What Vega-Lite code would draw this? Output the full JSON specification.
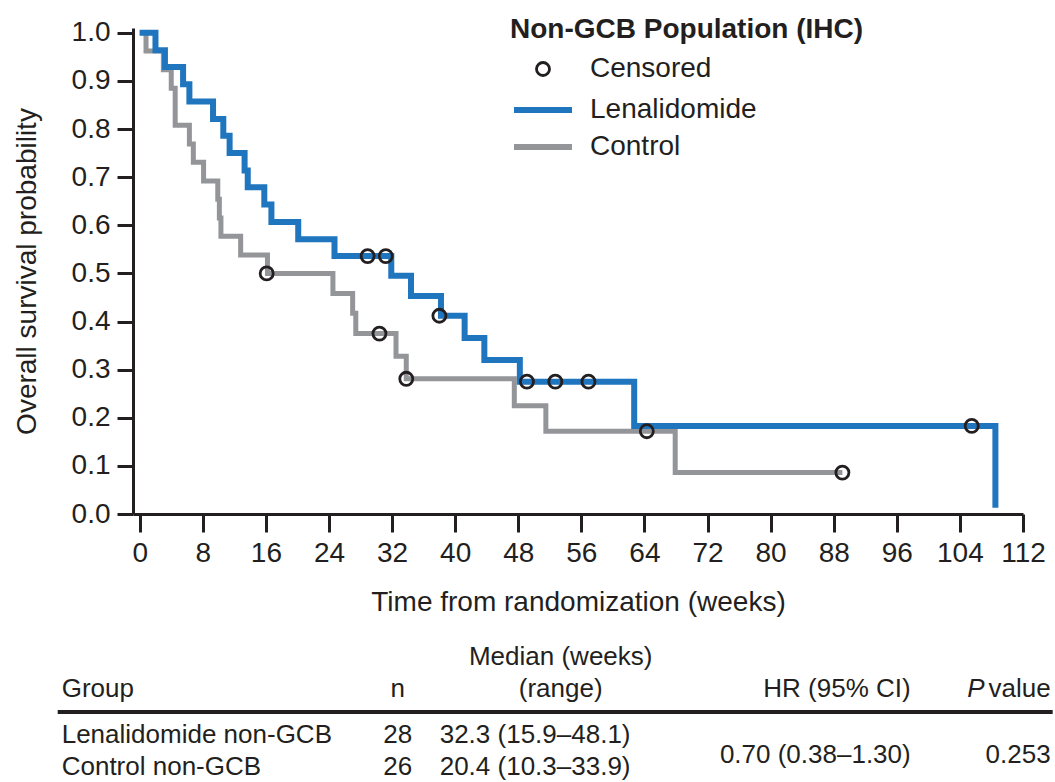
{
  "$schema": "https://vega.github.io/schema/vega-lite/v6.json",
  "padding": {"left": 13, "top": 16, "right": 0, "bottom": 0},
  "autosize": {"type": "pad"},
  "background": "white",
  "bounds": "flush",
  "spacing": 157,
  "datasets": {
    "km": [
      {"group": "Control", "t": 0, "s": 1.0},
      {"group": "Control", "t": 0.8, "s": 0.962},
      {"group": "Control", "t": 3.0, "s": 0.923},
      {"group": "Control", "t": 4.0, "s": 0.885},
      {"group": "Control", "t": 4.5, "s": 0.808},
      {"group": "Control", "t": 6.3, "s": 0.769},
      {"group": "Control", "t": 6.8, "s": 0.731},
      {"group": "Control", "t": 8.1, "s": 0.692},
      {"group": "Control", "t": 9.9, "s": 0.654},
      {"group": "Control", "t": 10.1, "s": 0.615},
      {"group": "Control", "t": 10.3, "s": 0.577},
      {"group": "Control", "t": 12.8, "s": 0.538},
      {"group": "Control", "t": 16.2, "s": 0.5},
      {"group": "Control", "t": 24.5, "s": 0.458},
      {"group": "Control", "t": 27.0, "s": 0.417},
      {"group": "Control", "t": 27.4, "s": 0.375},
      {"group": "Control", "t": 32.5, "s": 0.328},
      {"group": "Control", "t": 33.8, "s": 0.281},
      {"group": "Control", "t": 47.5, "s": 0.225},
      {"group": "Control", "t": 51.5, "s": 0.172},
      {"group": "Control", "t": 67.9, "s": 0.086},
      {"group": "Control", "t": 89.1, "s": 0.086},
      {"group": "Lenalidomide", "t": 0, "s": 1.0},
      {"group": "Lenalidomide", "t": 2.0, "s": 0.964},
      {"group": "Lenalidomide", "t": 3.2, "s": 0.929},
      {"group": "Lenalidomide", "t": 5.5, "s": 0.893},
      {"group": "Lenalidomide", "t": 6.3, "s": 0.857},
      {"group": "Lenalidomide", "t": 9.3, "s": 0.821},
      {"group": "Lenalidomide", "t": 10.6, "s": 0.786},
      {"group": "Lenalidomide", "t": 11.4, "s": 0.75},
      {"group": "Lenalidomide", "t": 13.3, "s": 0.714},
      {"group": "Lenalidomide", "t": 13.7, "s": 0.679},
      {"group": "Lenalidomide", "t": 15.8, "s": 0.643},
      {"group": "Lenalidomide", "t": 16.7, "s": 0.607},
      {"group": "Lenalidomide", "t": 20.1, "s": 0.571},
      {"group": "Lenalidomide", "t": 24.7, "s": 0.536},
      {"group": "Lenalidomide", "t": 31.9, "s": 0.495},
      {"group": "Lenalidomide", "t": 34.4, "s": 0.453},
      {"group": "Lenalidomide", "t": 38.2, "s": 0.412},
      {"group": "Lenalidomide", "t": 41.2, "s": 0.366},
      {"group": "Lenalidomide", "t": 43.7, "s": 0.32},
      {"group": "Lenalidomide", "t": 48.2, "s": 0.275},
      {"group": "Lenalidomide", "t": 62.7, "s": 0.183},
      {"group": "Lenalidomide", "t": 108.5, "s": 0.013}
    ],
    "cens": [
      {"group": "Lenalidomide", "kind": "Censored", "t": 28.9, "s": 0.536},
      {"group": "Lenalidomide", "kind": "Censored", "t": 31.2, "s": 0.536},
      {"group": "Lenalidomide", "kind": "Censored", "t": 38.0, "s": 0.412},
      {"group": "Lenalidomide", "kind": "Censored", "t": 49.1, "s": 0.275},
      {"group": "Lenalidomide", "kind": "Censored", "t": 52.7, "s": 0.275},
      {"group": "Lenalidomide", "kind": "Censored", "t": 56.9, "s": 0.275},
      {"group": "Lenalidomide", "kind": "Censored", "t": 105.5, "s": 0.183},
      {"group": "Control", "kind": "Censored", "t": 16.1, "s": 0.5},
      {"group": "Control", "kind": "Censored", "t": 30.4, "s": 0.375},
      {"group": "Control", "kind": "Censored", "t": 33.8, "s": 0.281},
      {"group": "Control", "kind": "Censored", "t": 64.3, "s": 0.172},
      {"group": "Control", "kind": "Censored", "t": 89.1, "s": 0.086}
    ],
    "table": [
      {"row": "title", "c": 3, "text": "Median (weeks)"},
      {"row": "header", "c": 1, "text": "Group"},
      {"row": "header", "c": 2, "text": "n"},
      {"row": "header", "c": 3, "text": "(range)"},
      {"row": "header", "c": 4, "text": "HR (95% CI)"},
      {"row": "header", "c": 5, "text": "value"},
      {"row": "header", "c": 5, "text": "P"},
      {"row": "r1", "c": 1, "text": "Lenalidomide non-GCB"},
      {"row": "r1", "c": 2, "text": "28"},
      {"row": "r1", "c": 3, "text": "32.3 (15.9–48.1)"},
      {"row": "r2", "c": 1, "text": "Control non-GCB"},
      {"row": "r2", "c": 2, "text": "26"},
      {"row": "r2", "c": 3, "text": "20.4 (10.3–33.9)"},
      {"row": "r1", "c": 4, "text": "0.70 (0.38–1.30)"},
      {"row": "r1", "c": 5, "text": "0.253"}
    ]
  },
  "vconcat": [
    {
      "width": 890,
      "height": 486,
      "encoding": {
        "x": {
          "field": "t", "type": "quantitative",
          "scale": {"domain": [-0.85, 112], "nice": false, "zero": false},
          "axis": {"values": [0, 8, 16, 24, 32, 40, 48, 56, 64, 72, 80, 88, 96, 104, 112], "title": "Time from randomization (weeks)", "labelOverlap": false, "labelFlush": false}
        },
        "y": {
          "field": "s", "type": "quantitative",
          "scale": {"domain": [0, 1.01], "nice": false, "zero": false},
          "axis": {"values": [0, 0.1, 0.2, 0.3, 0.4, 0.5, 0.6, 0.7, 0.8, 0.9, 1.0], "format": ".1f", "title": "Overall survival probability", "labelOverlap": false, "labelFlush": false}
        }
      },
      "layer": [
        {
          "data": {"name": "km"},
          "transform": [{"filter": "datum.group === 'Control'"}],
          "mark": {"type": "line", "interpolate": "step-after", "strokeWidth": 5},
          "encoding": {
            "color": {
              "field": "group", "type": "nominal",
              "scale": {"domain": ["Lenalidomide", "Control"], "range": ["#1f75be", "#939598"]},
              "legend": {
                "orient": "none", "legendX": 378, "legendY": 68, "title": null,
                "symbolType": "stroke", "symbolSize": 3364, "symbolStrokeWidth": 6,
                "clipHeight": 28, "rowPadding": 9, "labelOffset": 15, "padding": 0,
                "labelFontSize": 28, "labelColor": "#231f20", "labelFont": "Liberation Sans", "labelLimit": 1000
              }
            }
          }
        },
        {
          "data": {"name": "km"},
          "transform": [{"filter": "datum.group === 'Lenalidomide'"}],
          "mark": {"type": "line", "interpolate": "step-after", "strokeWidth": 6},
          "encoding": {
            "color": {"field": "group", "type": "nominal"}
          }
        },
        {
          "data": {"name": "cens"},
          "mark": {"type": "point", "shape": "circle", "filled": false, "size": 170, "strokeWidth": 2.8, "color": "#231f20", "opacity": 1},
          "encoding": {
            "shape": {
              "field": "kind", "type": "nominal",
              "scale": {"domain": ["Censored"], "range": ["circle"]},
              "legend": {
                "orient": "none", "legendX": 377, "legendY": -12,
                "title": "Non-GCB Population (IHC)", "titleFontSize": 28, "titleFontWeight": "bold",
                "titleColor": "#231f20", "titleFont": "Liberation Sans", "titlePadding": 11, "titleLimit": 1000,
                "symbolSize": 170, "symbolStrokeWidth": 2.8, "symbolStrokeColor": "#231f20",
                "symbolFillColor": "transparent", "symbolOffset": 19, "labelOffset": 33,
                "padding": 0, "labelFontSize": 28, "labelColor": "#231f20", "labelFont": "Liberation Sans", "labelLimit": 1000
              }
            }
          }
        }
      ]
    },
    {
      "width": 890,
      "height": 96,
      "data": {"name": "table"},
      "encoding": {
        "x": {
          "field": "c", "type": "quantitative",
          "scale": {"domain": [0, 1, 2, 3, 4, 5, 6], "range": [-75.3, -71.3, 264.7, 306.7, 777.7, 917.7, 919.7], "nice": false, "zero": false},
          "axis": null
        },
        "y": {
          "field": "row", "type": "nominal",
          "scale": {"type": "point", "domain": ["title", "header", "r1", "r2"], "padding": 0},
          "axis": null
        }
      },
      "layer": [
        {
          "data": {"values": [{"row": "header", "c": 0, "c2": 6}]},
          "mark": {"type": "rule", "yOffset": 9, "strokeWidth": 4, "color": "#231f20"},
          "encoding": {
            "x2": {"field": "c2"}
          }
        },
        {
          "transform": [{"filter": "datum.row === 'header' && datum.c === 1"}],
          "mark": {"type": "text", "align": "left", "baseline": "middle", "dy": -14},
          "encoding": {"text": {"field": "text"}}
        },
        {
          "transform": [{"filter": "datum.row === 'header' && datum.c === 2"}],
          "mark": {"type": "text", "align": "center", "baseline": "middle", "dy": -14},
          "encoding": {"text": {"field": "text"}}
        },
        {
          "transform": [{"filter": "(datum.row === 'header' || datum.row === 'title') && datum.c === 3"}],
          "mark": {"type": "text", "align": "center", "baseline": "middle", "dy": -14, "dx": 121},
          "encoding": {"text": {"field": "text"}}
        },
        {
          "transform": [{"filter": "datum.row === 'header' && datum.c >= 4 && datum.text !== 'P'"}],
          "mark": {"type": "text", "align": "right", "baseline": "middle", "dy": -14},
          "encoding": {"text": {"field": "text"}}
        },
        {
          "transform": [{"filter": "datum.row === 'header' && datum.text === 'P'"}],
          "mark": {"type": "text", "align": "right", "baseline": "middle", "dy": -14, "dx": -66, "fontStyle": "italic"},
          "encoding": {"text": {"field": "text"}}
        },
        {
          "transform": [{"filter": "(datum.row === 'r1' || datum.row === 'r2') && (datum.c === 1 || datum.c === 3)"}],
          "mark": {"type": "text", "align": "left", "baseline": "middle"},
          "encoding": {"text": {"field": "text"}}
        },
        {
          "transform": [{"filter": "(datum.row === 'r1' || datum.row === 'r2') && datum.c === 2"}],
          "mark": {"type": "text", "align": "center", "baseline": "middle"},
          "encoding": {"text": {"field": "text"}}
        },
        {
          "transform": [{"filter": "datum.row === 'r1' && datum.c >= 4"}],
          "mark": {"type": "text", "align": "right", "baseline": "middle", "dy": 20},
          "encoding": {"text": {"field": "text"}}
        }
      ]
    }
  ],
  "config": {
    "font": "Liberation Sans",
    "view": {"stroke": null},
    "axis": {
      "domainColor": "#231f20", "tickColor": "#231f20", "labelColor": "#231f20", "titleColor": "#231f20",
      "domainWidth": 3, "tickWidth": 3, "labelFontSize": 28, "titleFontSize": 28, "titleFontWeight": "normal",
      "labelFont": "Liberation Sans", "titleFont": "Liberation Sans", "grid": false
    },
    "axisX": {"tickSize": 18, "labelPadding": 7, "titlePadding": 21},
    "axisY": {"tickSize": 16, "labelPadding": 7, "titlePadding": 30},
    "text": {"font": "Liberation Sans", "fontSize": 26, "color": "#231f20"}
  }
}
